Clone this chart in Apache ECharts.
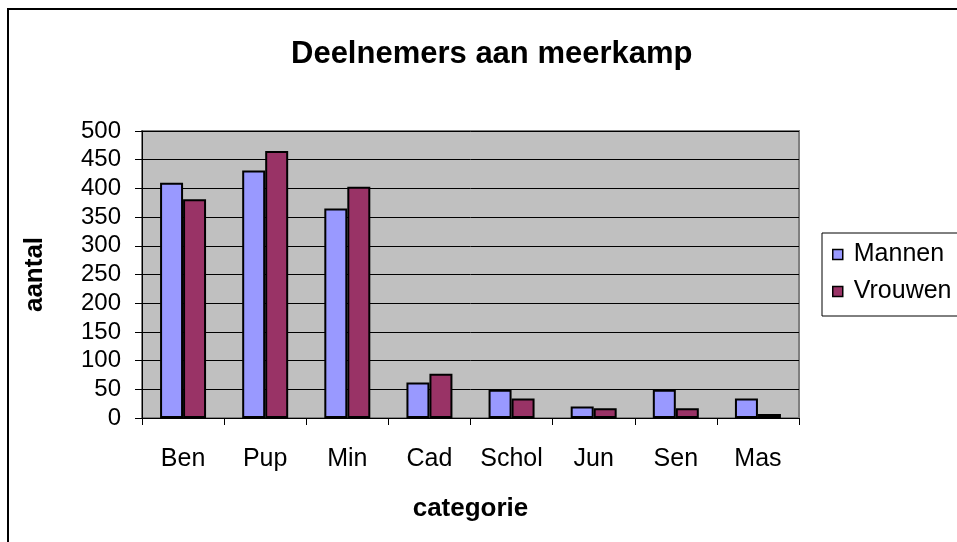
<!DOCTYPE html>
<html>
<head>
<meta charset="utf-8">
<script src="https://cdn.jsdelivr.net/npm/echarts@6/dist/echarts.min.js"></script>
<style>
  html, body { margin: 0; padding: 0; background: #fff; }
  #main { width: 957px; height: 542px; }
</style>
</head>
<body>
<div id="main"></div>
<script>
// categorieën en aantallen
var categories = ['Ben', 'Pup', 'Min', 'Cad', 'Schol', 'Jun', 'Sen', 'Mas'];
var mannen = [410, 431, 365, 62, 49, 20, 49, 34];
var vrouwen = [381, 465, 403, 77, 34, 17, 17, 7];
var yTicks = [0, 50, 100, 150, 200, 250, 300, 350, 400, 450, 500];

var font = 'Liberation Sans, Arial, sans-serif';
var chart = echarts.init(document.getElementById('main'));

chart.setOption({
  animation: false,
  textStyle: { fontFamily: font },
  title: {
    text: 'Deelnemers aan meerkamp',
    left: 286,
    top: 34,
    textStyle: { fontSize: 31, fontWeight: 'bold', color: '#000', fontFamily: font }
  },
  graphic: [{
    type: 'rect',
    shape: { x: 8, y: 9, width: 960, height: 540 },
    style: { fill: 'none', stroke: '#000', lineWidth: 2 }
  }],
  legend: {
    orient: 'vertical',
    left: 822,
    top: 233,
    padding: [9, 20, 12, 10],
    itemGap: 12,
    itemWidth: 10,
    itemHeight: 10,
    icon: 'rect',
    borderColor: '#000',
    borderWidth: 1,
    itemStyle: { borderColor: '#000', borderWidth: 1.5 },
    textStyle: { fontSize: 25, color: '#000', fontFamily: font, padding: [0, 0, 0, 6] },
    data: ['Mannen', 'Vrouwen']
  },
  grid: {
    left: 142,
    top: 131,
    width: 657,
    height: 287,
    show: true,
    backgroundColor: '#c0c0c0',
    borderColor: '#808080',
    borderWidth: 2
  },
  xAxis: {
    type: 'category',
    data: categories,
    name: 'categorie',
    nameLocation: 'middle',
    nameGap: 78,
    nameTextStyle: { fontSize: 26, fontWeight: 'bold', color: '#000' },
    axisLine: { lineStyle: { color: '#000', width: 1 } },
    axisTick: { show: true, length: 7, lineStyle: { color: '#000' } },
    axisLabel: { fontSize: 25, color: '#000', margin: 29 }
  },
  yAxis: {
    type: 'value',
    min: yTicks[0],
    max: yTicks[yTicks.length - 1],
    interval: 50,
    name: 'aantal',
    nameLocation: 'middle',
    nameGap: 94,
    nameRotate: 90,
    nameTextStyle: { fontSize: 26, fontWeight: 'bold', color: '#000' },
    axisLine: { show: true, lineStyle: { color: '#000', width: 1 } },
    axisTick: { show: true, length: 7, lineStyle: { color: '#000' } },
    axisLabel: { fontSize: 24, color: '#000', margin: 21 },
    splitLine: { show: true, lineStyle: { color: '#000', width: 1 } }
  },
  series: [
    {
      name: 'Mannen',
      type: 'bar',
      data: mannen,
      barGap: '0%',
      barCategoryGap: '44%',
      itemStyle: { color: '#9999ff', borderColor: '#000', borderWidth: 2 }
    },
    {
      name: 'Vrouwen',
      type: 'bar',
      data: vrouwen,
      itemStyle: { color: '#993366', borderColor: '#000', borderWidth: 2 }
    }
  ]
});
</script>
</body>
</html>
